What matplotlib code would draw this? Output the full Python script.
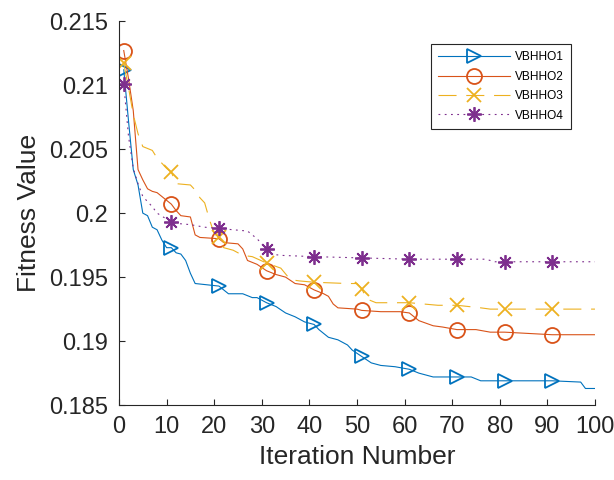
import matplotlib
matplotlib.use("Agg")
import matplotlib.pyplot as plt

# curve knots (iteration, fitness)
it_1 = [1, 2, 3, 4, 5, 6, 7, 8, 9, 10, 11, 12, 13, 14, 15, 16, 21, 22, 23, 26,
        28, 29, 30, 31, 33, 35, 37, 39, 41, 42, 44, 46, 48, 49, 51, 53, 55, 58,
        61, 63, 66, 71, 74, 76, 81, 91, 97, 98, 100]
fit_1 = [0.2112, 0.2072, 0.2034, 0.2022, 0.2000, 0.1998, 0.1989, 0.1987, 0.1979,
         0.1973, 0.1973, 0.1969, 0.1968, 0.1963, 0.1953, 0.1945, 0.1943, 0.1940,
         0.1937, 0.1937, 0.1934, 0.1934, 0.1932, 0.1930, 0.1927, 0.1922, 0.1919,
         0.1915, 0.1913, 0.1909, 0.1903, 0.1901, 0.1897, 0.1893, 0.1888, 0.1883,
         0.1881, 0.1880, 0.1878, 0.1875, 0.1872, 0.1872, 0.1872, 0.1869, 0.1869,
         0.1869, 0.1868, 0.1863, 0.1863]

it_2 = [1, 2, 3, 4, 5, 6, 7, 8, 9, 10, 11, 12, 13, 15, 16, 17, 21, 22, 25, 26,
        27, 29, 31, 33, 35, 37, 39, 41, 43, 44, 45, 46, 50, 51, 55, 59, 61, 63,
        66, 68, 71, 75, 78, 81, 91, 100]
fit_2 = [0.2127, 0.2105, 0.2080, 0.2034, 0.2026, 0.2019, 0.2017, 0.2016, 0.2013,
         0.2010, 0.2007, 0.2002, 0.1998, 0.1997, 0.1983, 0.1981, 0.1980, 0.1977,
         0.1976, 0.1972, 0.1963, 0.1960, 0.1955, 0.1952, 0.1950, 0.1945, 0.1944,
         0.1940, 0.1937, 0.1935, 0.1929, 0.1926, 0.1925, 0.1924, 0.1923, 0.1923,
         0.1922, 0.1916, 0.1912, 0.1911, 0.1909, 0.1909, 0.1907, 0.1907, 0.1905,
         0.1905]

it_3 = [1, 2, 3, 4, 5, 7, 8, 9, 10, 11, 12, 15, 16, 17, 18, 19, 20, 21, 22, 24,
        26, 28, 31, 34, 36, 38, 41, 48, 50, 51, 52, 54, 61, 64, 67, 71, 76, 78,
        81, 91, 100]
fit_3 = [0.2117, 0.2098, 0.2077, 0.2062, 0.2052, 0.2049, 0.2043, 0.2039, 0.2035,
         0.2032, 0.2023, 0.2022, 0.2018, 0.2012, 0.2008, 0.1995, 0.1984, 0.1981,
         0.1973, 0.1971, 0.1967, 0.1966, 0.1961, 0.1957, 0.1948, 0.1947, 0.1946,
         0.1945, 0.1945, 0.1941, 0.1933, 0.1930, 0.1930, 0.1929, 0.1928, 0.1928,
         0.1926, 0.1925, 0.1925, 0.1925, 0.1925]

it_4 = [1, 2, 3, 4, 5, 7, 8, 11, 12, 15, 18, 21, 24, 27, 29, 31, 32, 34, 41, 51,
        61, 71, 77, 79, 81, 91, 100]
fit_4 = [0.2101, 0.2060, 0.2035, 0.2023, 0.2013, 0.2005, 0.2000, 0.1993, 0.1992,
         0.1991, 0.1989, 0.1988, 0.1987, 0.1986, 0.1980, 0.1972, 0.1968, 0.1967,
         0.1966, 0.1965, 0.1964, 0.1964, 0.1964, 0.1962, 0.1962, 0.1962, 0.1962]

labels = ["VBHHO1", "VBHHO2", "VBHHO3", "VBHHO4"]
marker_iters = [1, 11, 21, 31, 41, 51, 61, 71, 81, 91]
x_ticks = [0, 10, 20, 30, 40, 50, 60, 70, 80, 90, 100]
y_ticks = [0.185, 0.19, 0.195, 0.2, 0.205, 0.21, 0.215]
y_ticklabels = ["0.185", "0.19", "0.195", "0.2", "0.205", "0.21", "0.215"]

plt.rcParams["font.family"] = ["Liberation Sans", "DejaVu Sans"]
plt.rcParams["lines.scale_dashes"] = False
dark = "#262626"

fig = plt.figure(figsize=(6.14, 4.8), dpi=100)
ax = fig.add_axes([0.1938, 0.156, 0.7752, 0.8])

series = [
  (it_1, fit_1, "#0072BD", ">", "-", 10.5),
  (it_2, fit_2, "#D95319", "o", "-", 10.8),
  (it_3, fit_3, "#EDB120", "x", (0, (13, 7)), 9.5),
  (it_4, fit_4, "#7E2F8E", (8, 2, 0), (0, (1.3, 3.2)), 10.5),
]

for (xs, ys, col, mk, ls, ms), lab in zip(series, labels):
  marks = [xs.index(i) for i in marker_iters]
  ax.plot(xs, ys, color=col, ls=ls, lw=0.8, marker=mk, ms=ms,
          mfc="none", mec=col, mew=1.3, markevery=marks, label=lab)

ax.set_xlim(0, 100)
ax.set_ylim(0.185, 0.215)
ax.set_xticks(x_ticks)
ax.set_yticks(y_ticks)
ax.set_yticklabels(y_ticklabels)
ax.spines["top"].set_visible(False)
ax.spines["right"].set_visible(False)
for s in ["left", "bottom"]:
  ax.spines[s].set_color(dark)
  ax.spines[s].set_linewidth(0.8)
ax.tick_params(direction="in", length=4.5, width=0.8, colors=dark,
               labelsize=17, pad=8)

ax.set_xlabel("Iteration Number", fontsize=19, color=dark, labelpad=5)
ax.set_ylabel("Fitness Value", fontsize=19, color=dark, labelpad=6)

leg = ax.legend(loc="upper right", bbox_to_anchor=(0.9496, 0.940),
                borderaxespad=0, fontsize=8.6, handlelength=6.0,
                handletextpad=0.45, labelspacing=0.62, borderpad=0.6,
                fancybox=False, framealpha=1)
leg.get_frame().set_edgecolor(dark)
leg.get_frame().set_linewidth(0.8)

fig.savefig("out.png", dpi=100)
